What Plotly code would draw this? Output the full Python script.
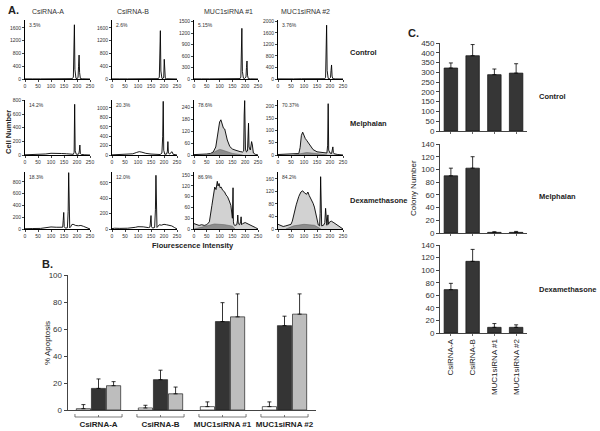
import plotly.graph_objects as go

W, H = 600, 431
FONT = "Liberation Sans, Arial, sans-serif"

# ---------------- Panel A data (flow histograms) ----------------
A_COLS = ["CsiRNA-A", "CsiRNA-B", "MUC1siRNA #1", "MUC1siRNA #2"]
A_ROWS = ["Control", "Melphalan", "Dexamethasone"]
PCT_CONTROL = ["3.5%", "2.6%", "5.15%", "3.76%"]
PCT_MELPH = ["14.2%", "20.3%", "78.6%", "70.37%"]
PCT_DEX = ["18.3%", "12.0%", "86.9%", "84.2%"]

A_XTICKS = [0, 50, 100, 150, 200, 250]
YMAX_CONTROL = [1850, 1850, 1540, 2050]
YSTEP_CONTROL = [400, 400, 300, 400]
YMAX_MELPH = [805, 1170, 275, 224]
YSTEP_MELPH = [200, 200, 60, 50]
YMAX_DEX = [970, 743, 159, 182]
YSTEP_DEX = [200, 200, 30, 40]

CTRL_A_X = [0, 10, 30, 60, 90, 110, 130, 150, 170, 182, 186, 188, 190, 192, 196, 200, 204, 206, 208, 210, 213, 220, 240, 250]
CTRL_A_Y = [4, 8, 3, 3, 8, 14, 12, 10, 8, 10, 60, 900, 1700, 300, 20, 15, 40, 400, 750, 200, 15, 6, 2, 0]
CTRL_B_X = [0, 10, 30, 60, 90, 110, 130, 150, 170, 178, 182, 184, 186, 188, 192, 196, 199, 201, 203, 205, 210, 220, 240, 250]
CTRL_B_Y = [4, 8, 3, 3, 8, 14, 12, 10, 8, 10, 60, 700, 1515, 250, 20, 15, 60, 618, 150, 20, 8, 4, 2, 0]
CTRL_1_X = [0, 10, 30, 60, 90, 110, 130, 150, 170, 180, 183, 185, 187, 189, 193, 198, 203, 205, 207, 209, 212, 220, 240, 250]
CTRL_1_Y = [4, 8, 3, 3, 8, 12, 10, 9, 8, 10, 50, 600, 1322, 200, 20, 15, 50, 300, 470, 100, 10, 4, 2, 0]
CTRL_2_X = [0, 10, 30, 60, 90, 110, 130, 150, 170, 180, 183, 185, 187, 189, 193, 198, 202, 204, 206, 208, 211, 220, 240, 250]
CTRL_2_Y = [4, 8, 3, 3, 8, 14, 12, 10, 8, 10, 60, 900, 1870, 300, 20, 15, 50, 300, 487, 100, 10, 4, 2, 0]

MELPH_A_X = [0, 20, 50, 80, 100, 120, 140, 160, 180, 186, 189, 191, 193, 197, 203, 207, 209, 211, 213, 217, 230, 250]
MELPH_A_Y = [3, 5, 5, 15, 25, 28, 22, 18, 12, 10, 40, 742, 60, 12, 10, 15, 60, 146, 20, 8, 3, 0]
MELPH_B_X = [0, 20, 50, 80, 95, 105, 115, 130, 150, 170, 185, 192, 195, 197, 199, 203, 210, 213, 215, 217, 222, 228, 231, 235, 250]
MELPH_B_Y = [3, 5, 8, 25, 55, 71, 60, 35, 20, 12, 10, 40, 400, 1141, 100, 15, 20, 80, 285, 40, 20, 60, 70, 15, 0]
MELPH_1_X = [0, 30, 50, 65, 75, 85, 95, 100, 105, 110, 115, 120, 125, 130, 140, 150, 160, 170, 180, 190, 194, 196, 198, 201, 205, 209, 211, 213, 215, 220, 223, 225, 228, 232, 240, 250]
MELPH_1_Y = [2, 3, 5, 8, 15, 40, 110, 165, 176, 160, 134, 130, 95, 75, 42, 30, 25, 20, 17, 15, 20, 200, 272, 30, 15, 20, 100, 159, 40, 25, 50, 67, 50, 10, 3, 0]
MELPH_1_BASE_X = [40, 70, 90, 100, 110, 130, 150, 170, 190]
MELPH_1_BASE_Y = [0, 8, 22, 28, 25, 15, 8, 4, 0]
MELPH_2_X = [0, 40, 70, 80, 85, 90, 95, 100, 105, 110, 115, 125, 135, 150, 165, 180, 188, 191, 193, 195, 200, 206, 209, 211, 213, 216, 230, 250]
MELPH_2_Y = [2, 3, 4, 6, 30, 80, 93, 75, 67, 60, 53, 35, 22, 13, 10, 9, 8, 40, 209, 20, 8, 6, 20, 33, 10, 5, 2, 0]
MELPH_2_BASE_X = [60, 90, 110, 130, 160, 190]
MELPH_2_BASE_Y = [0, 6, 10, 8, 4, 0]

DEX_A_X = [0, 10, 30, 60, 90, 100, 120, 140, 145, 147, 149, 151, 155, 163, 166, 168, 170, 172, 176, 180, 185, 195, 205, 215, 225, 235, 245, 250]
DEX_A_Y = [5, 10, 8, 10, 25, 35, 30, 20, 30, 150, 282, 40, 15, 20, 300, 959, 200, 20, 40, 75, 80, 60, 55, 60, 45, 30, 10, 0]
DEX_B_X = [0, 10, 30, 60, 90, 100, 120, 140, 146, 148, 150, 152, 156, 164, 167, 169, 171, 173, 177, 182, 190, 200, 210, 220, 230, 240, 250]
DEX_B_Y = [5, 10, 8, 10, 22, 30, 28, 18, 25, 100, 175, 30, 12, 20, 250, 700, 150, 20, 35, 55, 50, 61, 55, 50, 40, 20, 0]
DEX_1_X = [0, 10, 20, 30, 40, 50, 60, 70, 75, 81, 86, 91, 94, 98, 102, 106, 112, 119, 125, 131, 138, 144, 150, 151, 152.5, 154, 156, 160, 167, 170, 171, 173, 178, 182, 184, 186, 190, 200, 210, 220, 230, 240, 250]
DEX_1_Y = [15, 12, 10, 12, 10, 12, 20, 66, 95, 117, 110, 133, 120, 127, 115, 117, 108, 104, 95, 90, 78, 66, 30, 60, 115, 20, 12, 10, 12, 25, 39, 15, 12, 20, 34, 12, 15, 18, 15, 12, 8, 4, 0]
DEX_1_BASE_X = [0, 40, 80, 120, 150, 160]
DEX_1_BASE_Y = [0, 8, 14, 12, 8, 0]
DEX_2_X = [0, 10, 20, 30, 40, 50, 55, 60, 70, 80, 88, 95, 102, 110, 115, 120, 128, 135, 140, 145, 150, 155, 160, 162, 164, 166, 168, 175, 180, 183, 185, 188, 192, 194, 198, 205, 215, 225, 235, 245, 250]
DEX_2_Y = [15, 12, 8, 10, 12, 15, 25, 45, 77, 104, 118, 122, 115, 111, 118, 107, 95, 82, 70, 50, 30, 13, 10, 50, 167, 20, 10, 12, 20, 66, 15, 12, 45, 15, 22, 25, 20, 15, 8, 3, 0]
DEX_2_BASE_X = [30, 60, 100, 140, 165]
DEX_2_BASE_Y = [0, 10, 15, 12, 0]

# ---------------- Panel B data ----------------
B_GROUPS = ["CsiRNA-A", "CsiRNA-B", "MUC1siRNA #1", "MUC1siRNA #2"]
B_CONTROL = [1, 1.5, 2.5, 2.5]
B_CONTROL_ERR = [3, 2, 3.5, 3.5]
B_MELPH = [16, 22.5, 65.5, 62.5]
B_MELPH_ERR = [7, 7, 14, 7]
B_DEX = [18, 12, 69, 71]
B_DEX_ERR = [3, 5, 17, 15]
B_YTICKS = [0, 20, 40, 60, 80, 100]

# ---------------- Panel C data ----------------
C_CATS = ["CsiRNA-A", "CsiRNA-B", "MUC1siRNA #1", "MUC1siRNA #2"]
C_CONTROL = [322, 385, 288, 296]
C_CONTROL_ERR = [26, 57, 29, 48]
C_MELPH = [90, 102, 1, 1]
C_MELPH_ERR = [12, 18, 1, 1.5]
C_DEX = [69, 114, 9, 9]
C_DEX_ERR = [10, 19, 6, 4]

# ---------------- helpers ----------------
def dx(a, b):
    return [a / W, b / W]

def dy(top, bottom):
    return [1 - bottom / H, 1 - top / H]

def px(x):
    return x / W

def py(y):
    return 1 - y / H

def ax_names(k):
    s = "" if k == 1 else str(k)
    return "x" + s, "y" + s, "xaxis" + s, "yaxis" + s

fig = go.Figure()
layout = {}
annotations = []
shapes = []

col_px = [(25, 90), (112, 177), (194, 258), (278, 343)]
row_px = [(20, 79), (100, 155), (172, 229)]

hists = [
    [(CTRL_A_X, CTRL_A_Y, None, None), (CTRL_B_X, CTRL_B_Y, None, None),
     (CTRL_1_X, CTRL_1_Y, None, None), (CTRL_2_X, CTRL_2_Y, None, None)],
    [(MELPH_A_X, MELPH_A_Y, None, None), (MELPH_B_X, MELPH_B_Y, None, None),
     (MELPH_1_X, MELPH_1_Y, MELPH_1_BASE_X, MELPH_1_BASE_Y), (MELPH_2_X, MELPH_2_Y, MELPH_2_BASE_X, MELPH_2_BASE_Y)],
    [(DEX_A_X, DEX_A_Y, None, None), (DEX_B_X, DEX_B_Y, None, None),
     (DEX_1_X, DEX_1_Y, DEX_1_BASE_X, DEX_1_BASE_Y), (DEX_2_X, DEX_2_Y, DEX_2_BASE_X, DEX_2_BASE_Y)],
]
ymaxes = [YMAX_CONTROL, YMAX_MELPH, YMAX_DEX]
ysteps = [YSTEP_CONTROL, YSTEP_MELPH, YSTEP_DEX]
pcts = [PCT_CONTROL, PCT_MELPH, PCT_DEX]

tickfont_a = dict(family=FONT, size=5, color="#333")
k = 0
for r in range(3):
    for c in range(4):
        k += 1
        xn, yn, xk, yk = ax_names(k)
        hx, hy, bx, by = hists[r][c]
        filled = bx is not None
        fig.add_trace(go.Scatter(
            x=hx, y=hy, mode="lines", xaxis=xn, yaxis=yn,
            line=dict(color="black", width=0.9),
            fill="tozeroy" if filled else None,
            fillcolor="#d2d2d2", showlegend=False, hoverinfo="skip"))
        if filled:
            fig.add_trace(go.Scatter(
                x=bx, y=by, mode="lines", xaxis=xn, yaxis=yn,
                line=dict(color="#555", width=0.5),
                fill="tozeroy", fillcolor="#8c8c8c",
                showlegend=False, hoverinfo="skip"))
        ymax = ymaxes[r][c]
        step = ysteps[r][c]
        layout[xk] = dict(domain=dx(*col_px[c]), anchor=yn, range=[0, 250],
                          tickvals=A_XTICKS, showline=True, linecolor="black",
                          linewidth=0.8, ticks="outside", ticklen=2, tickwidth=0.6,
                          tickfont=tickfont_a, showgrid=False, zeroline=False,
                          fixedrange=True, automargin=False)
        layout[yk] = dict(domain=dy(*row_px[r]), anchor=xn, range=[0, ymax],
                          dtick=step, tick0=0, showline=True, linecolor="black",
                          linewidth=0.8, ticks="outside", ticklen=2, tickwidth=0.6,
                          tickfont=tickfont_a, showgrid=False, zeroline=False,
                          fixedrange=True, automargin=False)
        annotations.append(dict(text=pcts[r][c], xref=xn + " domain", yref=yn + " domain",
                                x=0.03, y=1.0, xanchor="left", yanchor="top",
                                showarrow=False, font=dict(family=FONT, size=5, color="#333")))

# Panel A texts
lbl = dict(family=FONT, size=7.5, color="#222")
annotations.append(dict(text="<b>A.</b>", x=px(6), y=py(10), xref="paper", yref="paper",
                        xanchor="left", yanchor="middle", showarrow=False,
                        font=dict(family=FONT, size=11, color="#222")))
for name, cx in zip(A_COLS, [48, 133, 228, 305]):
    annotations.append(dict(text=name, x=px(cx), y=py(12), xref="paper", yref="paper",
                            xanchor="center", yanchor="middle", showarrow=False,
                            font=dict(family=FONT, size=7, color="#333")))
for name, yy in zip(A_ROWS, [52, 124, 200]):
    annotations.append(dict(text="<b>" + name + "</b>", x=px(348), y=py(yy), xref="paper",
                            yref="paper", xanchor="left", yanchor="middle",
                            showarrow=False, font=lbl))
annotations.append(dict(text="<b>Cell Number</b>", x=px(8), y=py(132), xref="paper", yref="paper",
                        textangle=-90, xanchor="center", yanchor="middle", showarrow=False, font=lbl))
annotations.append(dict(text="<b>Flourescence Intensity</b>", x=px(193), y=py(245), xref="paper",
                        yref="paper", xanchor="center", yanchor="middle", showarrow=False, font=lbl))

# ---------------- Panel B ----------------
kB = 13
xn, yn, xk, yk = ax_names(kB)
err_common = dict(type="data", symmetric=False, color="black", thickness=0.8, width=2)
for vals, errs, col in [(B_CONTROL, B_CONTROL_ERR, "white"),
                        (B_MELPH, B_MELPH_ERR, "#343434"),
                        (B_DEX, B_DEX_ERR, "#bdbdbd")]:
    fig.add_trace(go.Bar(x=B_GROUPS, y=vals, xaxis=xn, yaxis=yn,
                         marker=dict(color=col, line=dict(color="#222", width=0.7)),
                         error_y=dict(array=errs, arrayminus=[0] * len(errs), **err_common),
                         showlegend=False, hoverinfo="skip"))
layout[xk] = dict(domain=dx(67.5, 315.5), anchor=yn, type="category", range=[-0.5, 3.5],
                  showline=True, linecolor="#444", linewidth=0.8, ticks="", showgrid=False,
                  ticklabelstandoff=6, tickangle=0, automargin=False,
                  tickvals=B_GROUPS, ticktext=["<b>" + g + "</b>" for g in B_GROUPS],
                  tickfont=dict(family=FONT, size=8, color="#222"), fixedrange=True)
layout[yk] = dict(domain=dy(275, 410), anchor=xn, range=[0, 100], tickvals=B_YTICKS,
                  showline=True, linecolor="#444", linewidth=0.8, ticks="outside",
                  ticklen=3, tickwidth=0.7, showgrid=False, zeroline=False, automargin=False,
                  tickfont=dict(family=FONT, size=8, color="#333"), fixedrange=True)
for i in range(len(B_GROUPS)):
    x0, x1 = i - 0.38, i + 0.38
    for seg in [(x0, 417, x1, 417), (x0, 417, x0, 414), (x1, 417, x1, 414), (i, 417, i, 415)]:
        shapes.append(dict(type="line", xref=xn, yref="paper", x0=seg[0], y0=py(seg[1]),
                           x1=seg[2], y1=py(seg[3]), line=dict(color="#444", width=0.7)))
annotations.append(dict(text="<b>B.</b>", x=px(40), y=py(264), xref="paper", yref="paper",
                        xanchor="left", yanchor="middle", showarrow=False,
                        font=dict(family=FONT, size=11, color="#222")))
annotations.append(dict(text="% Apoptosis", x=px(47), y=py(343), xref="paper", yref="paper",
                        textangle=-90, xanchor="center", yanchor="middle", showarrow=False,
                        font=dict(family=FONT, size=8, color="#222")))

# ---------------- Panel C ----------------
c_sets = [(C_CONTROL, C_CONTROL_ERR, (43, 131), 450, 50, "Control", 96),
          (C_MELPH, C_MELPH_ERR, (144, 233), 140, 20, "Melphalan", 196),
          (C_DEX, C_DEX_ERR, (245, 333), 140, 20, "Dexamethasone", 289)]
for j, (vals, errs, (top, bot), ymax, step, name, ly) in enumerate(c_sets):
    kk = 14 + j
    xn, yn, xk, yk = ax_names(kk)
    fig.add_trace(go.Bar(x=C_CATS, y=vals, xaxis=xn, yaxis=yn, width=0.62,
                         marker=dict(color="#363636", line=dict(color="#111", width=0.7)),
                         error_y=dict(array=errs, arrayminus=[0] * len(errs), **err_common),
                         showlegend=False, hoverinfo="skip"))
    last = (j == 2)
    layout[xk] = dict(domain=dx(440, 527), anchor=yn, type="category", range=[-0.5, 3.5],
                      showline=True, linecolor="#444", linewidth=0.8,
                      ticks="outside", ticklen=2, tickwidth=0.6, tickcolor="#666",
                      showticklabels=last, tickangle=-90, automargin=False,
                      tickfont=dict(family=FONT, size=8, color="#222"),
                      showgrid=False, fixedrange=True)
    layout[yk] = dict(domain=dy(top, bot), anchor=xn, range=[0, ymax], dtick=step, tick0=0,
                      showline=True, linecolor="#444", linewidth=0.8, ticks="outside",
                      ticklen=3, tickwidth=0.7, showgrid=False, zeroline=False, automargin=False,
                      tickfont=dict(family=FONT, size=8, color="#333"), fixedrange=True)
    annotations.append(dict(text="<b>" + name + "</b>", x=px(537), y=py(ly), xref="paper",
                            yref="paper", xanchor="left", yanchor="middle",
                            showarrow=False, font=lbl))
annotations.append(dict(text="<b>C.</b>", x=px(406), y=py(33), xref="paper", yref="paper",
                        xanchor="left", yanchor="middle", showarrow=False,
                        font=dict(family=FONT, size=11, color="#222")))
annotations.append(dict(text="Colony Number", x=px(414), y=py(188), xref="paper", yref="paper",
                        textangle=-90, xanchor="center", yanchor="middle", showarrow=False,
                        font=dict(family=FONT, size=8, color="#222")))

fig.update_layout(
    width=W, height=H, margin=dict(l=0, r=0, t=0, b=0, autoexpand=False),
    paper_bgcolor="white", plot_bgcolor="white",
    barmode="group", bargap=0.27, bargroupgap=0.06,
    showlegend=False, annotations=annotations, shapes=shapes,
    font=dict(family=FONT),
    **layout)

fig.write_html("out.html", config={"displayModeBar": False},
               post_script="document.body.style.margin='0';document.body.style.overflow='hidden';")
